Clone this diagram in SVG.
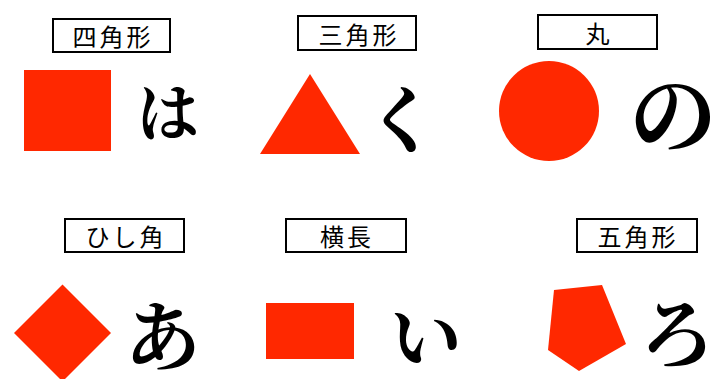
<svg xmlns="http://www.w3.org/2000/svg" width="720" height="379" viewBox="0 0 720 379">
<style>
.box{fill:#fff;stroke:#000;stroke-width:2}
.lbl{font-family:"Noto Sans CJK JP","Noto Sans CJK SC",sans-serif;font-size:24px;letter-spacing:3px;fill:#000;text-anchor:middle;dominant-baseline:central}
.shape{fill:#FF2800}
.kana{font-family:"Noto Serif CJK JP","Noto Sans CJK JP",serif;font-weight:bold;fill:#000;text-anchor:middle;dominant-baseline:central}
</style>
<rect width="720" height="379" fill="#fff"/>
<g id="n-square">
<rect class="box" x="53" y="19" width="117" height="33"/>
<text class="lbl" x="113" y="35.5">四角形</text>
<rect class="shape" x="24" y="70" width="87" height="81"/>
<text class="kana" x="168" y="109" font-size="62">は</text>
</g>
<g id="n-triangle">
<rect class="box" x="298" y="16" width="118" height="34"/>
<text class="lbl" x="359" y="33">三角形</text>
<polygon class="shape" points="310,74 360,154 260,154"/>
<text class="kana" x="402" y="115" font-size="72">く</text>
</g>
<g id="n-circle">
<rect class="box" x="538" y="15" width="119" height="34"/>
<text class="lbl" x="599" y="32">丸</text>
<circle class="shape" cx="549" cy="111" r="50"/>
<text class="kana" x="673" y="109" font-size="88">の</text>
</g>
<g id="n-diamond">
<rect class="box" x="65" y="219" width="119" height="33"/>
<text class="lbl" x="126" y="235.5">ひし角</text>
<polygon class="shape" points="62.5,284.5 111,333 62.5,381.5 14,333"/>
<text class="kana" x="163" y="332" font-size="76">あ</text>
</g>
<g id="n-wide">
<rect class="box" x="286" y="219" width="120" height="33"/>
<text class="lbl" x="347" y="235.5">横長</text>
<rect class="shape" x="266" y="303" width="88" height="56"/>
<text class="kana" x="426" y="332" font-size="72">い</text>
</g>
<g id="n-pentagon">
<rect class="box" x="577" y="219" width="120" height="33"/>
<text class="lbl" x="638" y="235.5">五角形</text>
<polygon class="shape" points="554,290 602,285 626,344 579,371 548,350"/>
<text class="kana" x="677" y="329" font-size="76">ろ</text>
</g>
<g id="connectors"></g>
</svg>
